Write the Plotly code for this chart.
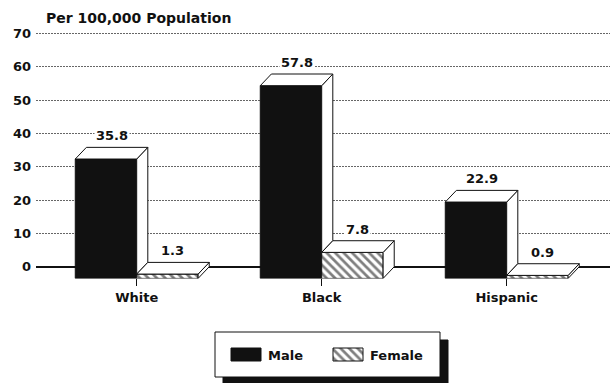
import plotly.graph_objects as go

# ---- data -------------------------------------------------------------
groups = ["White", "Black", "Hispanic"]
male = [35.8, 57.8, 22.9]
female = [1.3, 7.8, 0.9]
y_ticks = [0, 10, 20, 30, 40, 50, 60, 70]
series_names = ["Male", "Female"]

# ---- geometry of the pseudo-3D bars (category / value units) ---------
W = 0.332     # front-face width of one bar
DX = 0.06     # depth shift to the right
DY = 3.5      # depth shift upwards

FONT = "DejaVu Sans"
INK = "#111111"
HATCH = dict(shape="\\", fgcolor="#000000", bgcolor="white", size=6, solidity=0.45)

W_PX, H_PX = 615, 383
PLOT_L, PLOT_R = 36, 610
PLOT_T, PLOT_B = 30.0, 278.4


def bold(size):
    return dict(family=FONT, size=size, color=INK, weight="bold")


fig = go.Figure()

pos = list(range(len(groups)))
male_x = [p - W / 2 for p in pos]
female_x = [p + W / 2 for p in pos]

# front faces
fig.add_trace(go.Bar(x=male_x, y=male, base=-DY, width=W, name=series_names[0],
                     marker=dict(color=INK, line=dict(color=INK, width=1)),
                     showlegend=False))
fig.add_trace(go.Bar(x=female_x, y=female, base=-DY, width=W, name=series_names[1],
                     marker=dict(color="white", pattern=HATCH,
                                 line=dict(color=INK, width=1)),
                     showlegend=False))


def face(xs, ys):
    fig.add_trace(go.Scatter(x=xs + [xs[0]], y=ys + [ys[0]], mode="lines",
                             fill="toself", fillcolor="white",
                             line=dict(color=INK, width=1),
                             hoverinfo="skip", showlegend=False))


for p, vm, vf in zip(pos, male, female):
    # male bar: side face (down to the female top) and top face
    l, r = p - W, p
    low = min(vm, vf)
    face([r, r + DX, r + DX, r], [vm - DY, vm, low, low - DY])
    face([l, l + DX, r + DX, r], [vm - DY, vm, vm, vm - DY])
    # female bar: side face and top face
    l, r = p, p + W
    face([r, r + DX, r + DX, r], [vf - DY, vf, 0, -DY])
    face([l, l + DX, r + DX, r], [vf - DY, vf, vf, vf - DY])

# value labels above each bar
annotations = []
for xs, vals in ((male_x, male), (female_x, female)):
    for x, v in zip(xs, vals):
        annotations.append(dict(x=x + DX / 2, y=v, xref="x", yref="y",
                                text=f"{v:.1f}", showarrow=False,
                                yanchor="bottom", yshift=2, bgcolor="white",
                                font=bold(13)))

# axis caption
annotations.append(dict(x=44 / W_PX, y=1 - 18 / H_PX, xref="paper", yref="paper",
                        text="Per 100,000 Population", showarrow=False,
                        xanchor="left", yanchor="middle", font=bold(14)))

# ---- boxed legend with drop shadow (drawn on its own pixel axes) -----
LX0, LX1, LY0, LY1 = 200, 460, 318, 383


def box(x0, x1, y0, y1, **kw):
    fig.add_trace(go.Scatter(x=[x0, x1, x1, x0, x0], y=[y0, y0, y1, y1, y0],
                             xaxis="x2", yaxis="y2", mode="lines", fill="toself",
                             hoverinfo="skip", showlegend=False, **kw))


box(223, 448, 340, 384, fillcolor=INK, line=dict(color=INK, width=1))
box(215, 440, 332, 377, fillcolor="white", line=dict(color=INK, width=1))
box(231, 261, 348, 361, fillcolor=INK, line=dict(color=INK, width=1))
box(333, 363, 348, 361, fillcolor="white", fillpattern=HATCH,
    line=dict(color=INK, width=1))
for tx, label in ((266, series_names[0]), (368, series_names[1])):
    annotations.append(dict(x=tx, y=355, xref="x2", yref="y2", text=label,
                            showarrow=False, xanchor="left", yanchor="middle",
                            font=bold(13)))

x_per_unit = 185.0
c0 = 136.7
fig.update_layout(
    width=W_PX, height=H_PX,
    margin=dict(l=0, r=0, t=0, b=0),
    paper_bgcolor="white", plot_bgcolor="white",
    barmode="overlay", showlegend=False,
    font=dict(family=FONT, size=13, color=INK),
    annotations=annotations,
    xaxis=dict(domain=[PLOT_L / W_PX, PLOT_R / W_PX],
               range=[(PLOT_L - c0) / x_per_unit, (PLOT_R - c0) / x_per_unit],
               tickvals=pos, ticktext=groups, ticks="outside", ticklen=7,
               tickwidth=1, tickcolor=INK, showgrid=False, zeroline=False,
               showline=False, automargin=False, tickfont=bold(13)),
    yaxis=dict(domain=[1 - PLOT_B / H_PX, 1 - PLOT_T / H_PX],
               range=[-DY, 71], tickvals=y_ticks, ticks="",
               ticklabelstandoff=4, showgrid=True, gridcolor="#666666",
               griddash="2px,1px", gridwidth=1, zeroline=True,
               zerolinecolor=INK, zerolinewidth=1.5, showline=False,
               automargin=False, tickfont=bold(13)),
    xaxis2=dict(domain=[LX0 / W_PX, LX1 / W_PX], range=[LX0, LX1],
                visible=False, fixedrange=True),
    yaxis2=dict(domain=[0, 1 - LY0 / H_PX], range=[LY1, LY0],
                visible=False, fixedrange=True),
)

fig.write_html("out.html")
